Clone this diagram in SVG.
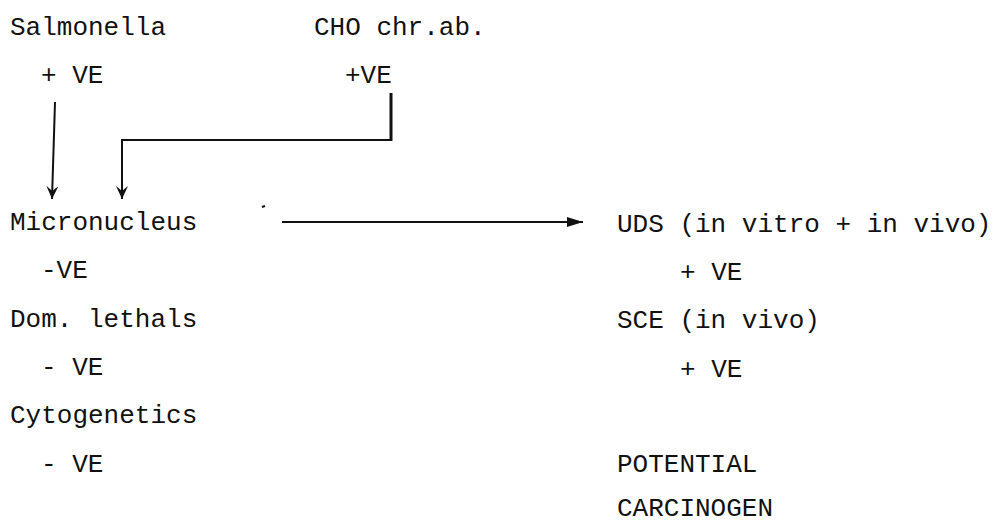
<svg xmlns="http://www.w3.org/2000/svg" width="999" height="526" viewBox="0 0 999 526">
<defs>
<style>
text{font-family:"Liberation Mono","Courier New",monospace;font-size:26px;fill:#111}
.c{stroke:#111;fill:none;stroke-width:2}
</style>
<marker id="down" viewBox="0 0 14 12" refX="13" refY="6" markerWidth="14" markerHeight="12" markerUnits="userSpaceOnUse" orient="auto">
<path d="M0,0 L13,6 L0,12 L5,6 Z" fill="#111"/>
</marker>
<marker id="tri" viewBox="0 0 18 12" refX="17" refY="6" markerWidth="18" markerHeight="12" markerUnits="userSpaceOnUse" orient="auto">
<path d="M1,1 L17,6 L1,11 Z" fill="#111"/>
</marker>
</defs>
<rect width="999" height="526" fill="#fff"/>
<g id="salmonella"><text x="10" y="35">Salmonella</text><text x="41" y="83">+ VE</text></g>
<g id="cho"><text x="314" y="35">CHO chr.ab.</text><text x="345" y="83">+VE</text></g>
<g id="micronucleus"><text x="10" y="230">Micronucleus</text><text x="41" y="278">-VE</text></g>
<g id="domlethals"><text x="10" y="327">Dom. lethals</text><text x="41" y="375">- VE</text></g>
<g id="cytogenetics"><text x="10" y="423">Cytogenetics</text><text x="41" y="472">- VE</text></g>
<g id="uds"><text x="617" y="232">UDS (in vitro + in vivo)</text><text x="680" y="280">+ VE</text></g>
<g id="sce"><text x="617" y="328">SCE (in vivo)</text><text x="680" y="377">+ VE</text></g>
<g id="potential"><text x="617" y="472">POTENTIAL</text><text x="617" y="516">CARCINOGEN</text></g>
<g id="connectors">
<path class="c" d="M55,102 L52,199" marker-end="url(#down)"/>
<path class="c" d="M391,93 L391,141" style="stroke-width:3"/>
<path class="c" d="M392,140 L122,140 L122,199" marker-end="url(#down)"/>
<path class="c" d="M282,222 L583,222" marker-end="url(#tri)"/>
<path d="M262,207 L265,206" stroke="#111" stroke-width="2"/>
</g>
</svg>
